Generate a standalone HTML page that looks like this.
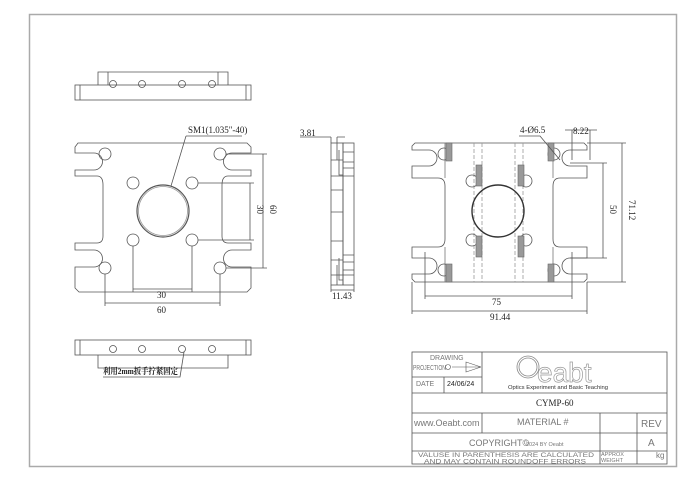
<!DOCTYPE html>
<html><head><meta charset="utf-8"><style>
html,body{margin:0;padding:0;background:#fff;}
svg{display:block;}
text{font-family:"Liberation Serif","Noto Serif CJK SC",serif;fill:#222;}
.s text{font-family:"Liberation Sans","Noto Sans CJK SC",sans-serif;fill:#777;}
</style></head><body>
<svg width="700" height="478" viewBox="0 0 700 478" xmlns="http://www.w3.org/2000/svg">
<rect x="29.5" y="14.5" width="647" height="452" fill="none" stroke="#aaa" stroke-width="1.5"/>
<g fill="none" stroke="#555" stroke-width="0.8">
<path d="M98,85 V72 H228 V85"/>
<rect x="75" y="85" width="176" height="15"/>
<line x1="80" y1="85" x2="80" y2="100"/><line x1="246" y1="85" x2="246" y2="100"/>
<line x1="108" y1="72" x2="108" y2="85"/><line x1="218" y1="72" x2="218" y2="85"/>
<circle cx="113" cy="84" r="3.5"/><circle cx="142" cy="84" r="3.5"/><circle cx="182" cy="84" r="3.5"/><circle cx="212" cy="84" r="3.5"/>
<rect x="75" y="340" width="176" height="15"/>
<path d="M98,355 V368 H228 V355"/>
<line x1="80" y1="340" x2="80" y2="355"/><line x1="246" y1="340" x2="246" y2="355"/>
<circle cx="113" cy="349" r="3.5"/><circle cx="142" cy="349" r="3.5"/><circle cx="182" cy="349" r="3.5"/><circle cx="212" cy="349" r="3.5"/>
<path d="M103,377 H180 L184,352"/>
<path d="M78,143 H247 L251,147 V153 H232 A8.5,8.5 0 0 0 232,170 H251 V176 H228 Q222,176 222,185 V236 Q222,243 228,243 H251 V250 H232 A8.5,8.5 0 0 0 232,267 H251 V288 L247,292 H79 L75,288 V267 H94 A8.5,8.5 0 0 0 94,250 H75 V243 H97 Q103,243 103,236 V185 Q103,176 97,176 H75 V170 H94 A8.5,8.5 0 0 0 94,153 H75 V147 Z"/>
<circle cx="105" cy="154" r="6"/><circle cx="220" cy="154" r="6"/><circle cx="105" cy="268" r="6"/><circle cx="220" cy="268" r="6"/>
<circle cx="133" cy="183" r="6"/><circle cx="192" cy="183" r="6"/><circle cx="133" cy="240" r="6"/><circle cx="192" cy="240" r="6"/>
<circle cx="163" cy="211" r="26" stroke-width="1.2"/><circle cx="163" cy="211" r="24.5" stroke="#999"/>
<path d="M198,183 H254 M198,240 H254 M250,183 V240"/>
<path d="M226,154 H267 M226,268 H267 M263,154 V268"/>
<path d="M133,246 V292 M192,246 V292 M133,289 H192"/>
<path d="M105,274 V306 M220,274 V306 M105,303 H220"/>
<path d="M186,136 H242 M186,136 L171,186"/>
<rect x="331" y="143" width="12" height="142"/>
<rect x="343" y="143" width="11" height="142"/>
<path d="M331,160 H343 M331,176 H343 M331,190 H343 M331,212 H343 M331,260 H343 M331,275 H343 M331,241 H343"/>
<path d="M337,143 V160 M337,265 V285 M339,150 V175 H343 M339,258 V280 H343"/>
<path d="M343,152 H354 M343,162 H354 M343,168 H354 M343,176 H354 M343,255 H354 M343,262 H354 M343,270 H354 M343,275 H354"/>
<path d="M300,137 H318 H331 M331,137 V143 M337,137 V143 M337,137 H345"/>
<path d="M331,285 V292 M354,285 V292 M331,290 H354"/>
<path d="M415,143 H584 L587,146 V150 H570 A8,8 0 0 0 570,166 H587 V178 H560 Q553,178 553,186 V239 Q553,247 560,247 H587 V258 H570 A8,8 0 0 0 570,274 H587 V279 L584,282 H415 L412,279 V274 H429 A8,8 0 0 0 429,258 H412 V247 H438 Q445,247 445,239 V186 Q445,178 438,178 H412 V166 H429 A8,8 0 0 0 429,150 H412 V146 Z"/>
<path d="M445,143 V178 M553,143 V178 M445,247 V282 M553,247 V282" stroke="#777"/>
<path d="M474,143 V282 M482,143 V282 M515,143 V282 M523,143 V282" stroke="#999" stroke-dasharray="4,2"/>
<circle cx="444" cy="154" r="6"/><circle cx="554" cy="154" r="6"/><circle cx="444" cy="270" r="6"/><circle cx="554" cy="270" r="6"/>
<circle cx="472" cy="181" r="6"/><circle cx="526" cy="181" r="6"/><circle cx="472" cy="240" r="6"/><circle cx="526" cy="240" r="6"/>
<circle cx="498" cy="211" r="26" stroke="#333" stroke-width="1.4"/>
</g>
<g fill="#999" stroke="#666" stroke-width="0.6">
<rect x="446" y="143" width="6" height="18"/><rect x="548" y="143" width="6" height="18"/>
<rect x="476" y="165" width="6" height="21"/><rect x="518" y="165" width="6" height="21"/>
<rect x="476" y="236" width="6" height="21"/><rect x="518" y="236" width="6" height="21"/>
<rect x="446" y="264" width="6" height="18"/><rect x="548" y="264" width="6" height="18"/>
</g>
<g fill="none" stroke="#555" stroke-width="0.8">
<path d="M425,252 V299 M572,252 V299 M425,296 H572"/>
<path d="M412,282 V314 M587,282 V314 M412,311 H587"/>
<path d="M570,163 H607 M570,258 H607 M603,163 V258"/>
<path d="M587,143 H626 M587,282 H626 M622,143 V282"/>
<path d="M519,136 H540 L560,160 M572,130 V160 M590,130 V160 M565,130 H597"/>
<rect x="412" y="352" width="255" height="112"/>
<path d="M482,352 V393 M412,377 H482 M444,377 V393 M412,393 H667 M412,413 H667 M482,413 V433 M600,413 V464 M637,413 V464 M412,433 H667 M412,451 H667"/>
<path d="M452,367 H481 L466,362 V372 L481,367" stroke-width="0.6"/>
<circle cx="448" cy="367" r="2.5" stroke-width="0.6"/>
<circle cx="528" cy="367" r="11" stroke="#888"/>
<circle cx="528" cy="367" r="9" stroke="#888"/>
</g>
<g font-size="9">
<text x="188" y="133">SM1(1.035"-40)</text>
<text x="157" y="298">30</text>
<text x="157" y="313">60</text>
<text x="300" y="136">3.81</text>
<text x="332" y="299">11.43</text>
<text x="492" y="305">75</text>
<text x="490" y="320">91.44</text>
<text x="520" y="133">4-Ø6.5</text>
<text x="573" y="134">8.22</text>
<text transform="translate(257,205) rotate(90)">30</text>
<text transform="translate(270,205) rotate(90)">60</text>
<text transform="translate(610,205) rotate(90)">50</text>
<text transform="translate(629,200) rotate(90)">71.12</text>
<text x="103" y="374" font-size="8.5" font-weight="bold" textLength="75" lengthAdjust="spacingAndGlyphs">利用2mm扳手拧紧固定</text>
<text x="536" y="406" font-size="9">CYMP-60</text>
</g>
<g class="s" font-size="7">
<text x="430" y="360">DRAWING</text>
<text x="413" y="370" textLength="33" lengthAdjust="spacingAndGlyphs">PROJECTION</text>
<text x="416" y="386">DATE</text>
<text x="447" y="386" style="fill:#222">24/06/24</text>
<text x="537" y="382" font-size="28" style="fill:none" stroke="#999" stroke-width="0.7">eabt</text>
<text x="508" y="389" font-size="5.5" style="fill:#333" textLength="100" lengthAdjust="spacingAndGlyphs">Optics Experiment and Basic Teaching</text>
<text x="414" y="426" font-size="9">www.Oeabt.com</text>
<text x="517" y="425" font-size="9">MATERIAL #</text>
<text x="641" y="427" font-size="10">REV</text>
<text x="648" y="446" font-size="10">A</text>
<text x="469" y="446" font-size="9">COPYRIGHT©</text>
<text x="526" y="446" font-size="5.5">2024 BY Oeabt</text>
<text x="418" y="457" font-size="6.5" textLength="176" lengthAdjust="spacingAndGlyphs">VALUSE IN PARENTHESIS ARE CALCULATED</text>
<text x="424" y="463.5" font-size="6" textLength="162" lengthAdjust="spacingAndGlyphs">AND MAY CONTAIN ROUNDOFF ERRORS</text>
<text x="601" y="456" font-size="5.5">APPROX</text>
<text x="601" y="462" font-size="5.5">WEIGHT</text>
<text x="656" y="458" font-size="8">kg</text>
</g>
</svg>
</body></html>
